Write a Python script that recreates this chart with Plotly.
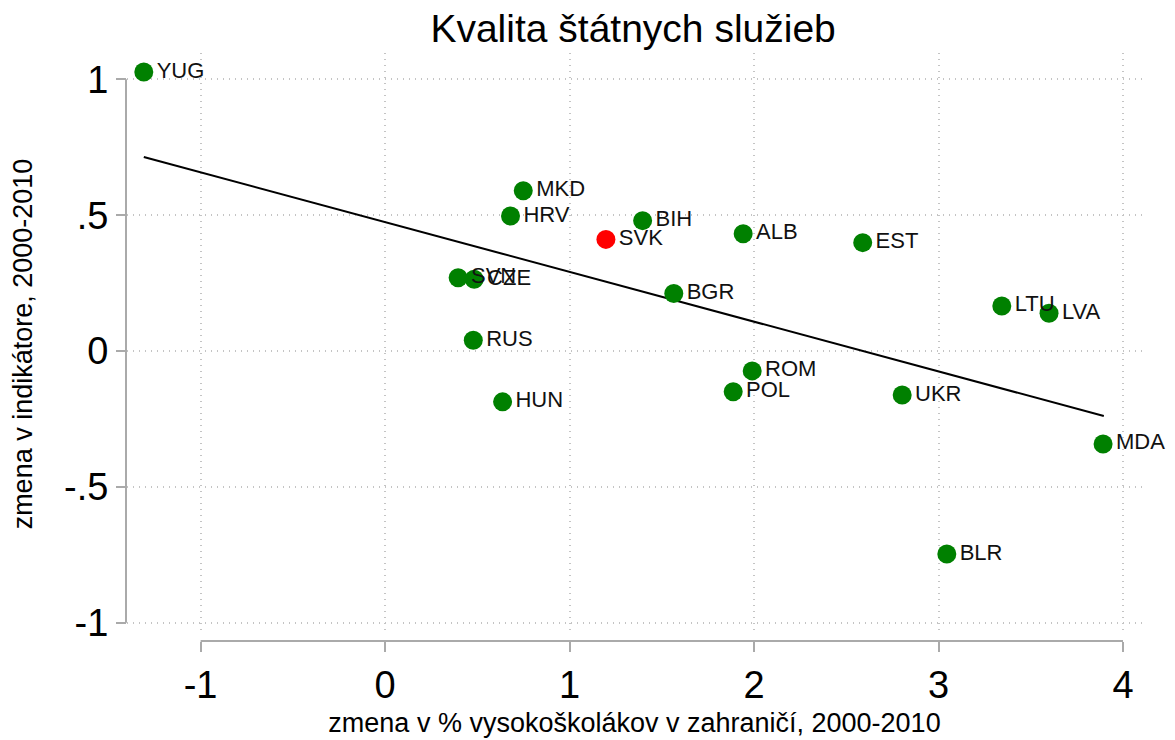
import plotly.graph_objects as go

countries = ["YUG", "MKD", "HRV", "BIH", "SVK", "ALB", "EST", "SVN", "CZE", "BGR",
             "LTU", "LVA", "RUS", "ROM", "POL", "UKR", "HUN", "MDA", "BLR"]
x_vals = [-1.308, 0.749, 0.680, 1.396, 1.197, 1.941, 2.589, 0.396, 0.483, 1.565,
          3.343, 3.599, 0.478, 1.990, 1.887, 2.803, 0.637, 3.892, 3.045]
y_vals = [1.027, 0.590, 0.497, 0.480, 0.411, 0.432, 0.399, 0.270, 0.264, 0.212,
          0.166, 0.139, 0.040, -0.073, -0.150, -0.162, -0.187, -0.342, -0.747]
fit_x = [-1.308, 3.896]
fit_y = [0.714, -0.239]
x_ticks = [-1, 0, 1, 2, 3, 4]
x_tick_labels = ["-1", "0", "1", "2", "3", "4"]
y_ticks = [-1, -0.5, 0, 0.5, 1]
y_tick_labels = ["-1", "-.5", "0", ".5", "1"]
highlight = "SVK"

FONT = "Liberation Sans, Arial, sans-serif"
colors = ["#ff0000" if c == highlight else "#008000" for c in countries]

fig = go.Figure()
fig.add_trace(go.Scatter(
    x=fit_x, y=fit_y, mode="lines",
    line=dict(color="black", width=2), hoverinfo="skip", showlegend=False,
    xaxis="x", yaxis="y"))
fig.add_trace(go.Scatter(
    x=x_vals, y=y_vals, mode="markers+text", text=countries,
    textposition="middle right",
    textfont=dict(family=FONT, size=22, color="#111111"),
    marker=dict(color=colors, size=19, line=dict(width=0)),
    cliponaxis=False, showlegend=False, xaxis="x", yaxis="y"))

# geometry (figure pixels; page body adds an 8px offset)
L, R, T, B = 107, 41, 45, 97
W = 1175 - L - R
H = 740 - T - B
xdom0 = (119 - L) / W
ydom0 = (643 - 627) / H
xline_pos = (643 - 633) / H
yline_pos = (118 - L) / W

xr = [-1.399, 4.103]
yr = [-1.045, 1.097]

grid = dict(showgrid=True, gridcolor="#c4c4c4", griddash="1px,5px", gridwidth=1.5,
            zeroline=False, showline=False)

fig.update_layout(
    width=1175, height=740,
    margin=dict(l=L, r=R, t=T, b=B, autoexpand=False),
    paper_bgcolor="white", plot_bgcolor="white",
    font=dict(family=FONT, color="black"),
    title=dict(text="Kvalita štátnych služieb", x=0.532, xanchor="center",
               y=0.972, yanchor="middle",
               font=dict(family=FONT, size=39, color="black")),
    xaxis=dict(domain=[xdom0, 1], range=xr, tickvals=x_ticks, showticklabels=False,
               ticks="", **grid),
    yaxis=dict(domain=[ydom0, 1], range=yr, tickvals=y_ticks, showticklabels=False,
               ticks="", **grid),
    xaxis2=dict(overlaying="x", matches="x", anchor="free", position=xline_pos,
                range=xr, tickvals=x_ticks, ticktext=x_tick_labels,
                ticks="outside", ticklen=10, tickwidth=2, tickcolor="#aaaaaa",
                showgrid=False, zeroline=False, showline=False,
                tickfont=dict(family=FONT, size=38, color="black"),
                title=dict(text="zmena v % vysokoškolákov v zahraničí, 2000-2010",
                           font=dict(family=FONT, size=27, color="black"),
                           standoff=8)),
    yaxis2=dict(overlaying="y", matches="y", anchor="free", position=yline_pos,
                range=yr, tickvals=y_ticks, ticktext=y_tick_labels,
                ticks="outside", ticklen=10, tickwidth=2, tickcolor="#aaaaaa",
                showgrid=False, zeroline=False, showline=False,
                tickfont=dict(family=FONT, size=38, color="black"),
                title=dict(text="zmena v indikátore, 2000-2010",
                           font=dict(family=FONT, size=27, color="black"),
                           standoff=34)),
)

# invisible trace to activate the secondary axes
fig.add_trace(go.Scatter(x=[x_ticks[0]], y=[y_ticks[0]], xaxis="x2", yaxis="y2",
                         mode="markers", marker=dict(opacity=0), hoverinfo="skip",
                         showlegend=False))

# axis lines spanning the tick range only (Stata style)
fig.add_shape(type="line", xref="x", yref="paper", x0=x_ticks[0], x1=x_ticks[-1],
              y0=xline_pos, y1=xline_pos, line=dict(color="#aaaaaa", width=2))
fig.add_shape(type="line", xref="paper", yref="y", x0=yline_pos, x1=yline_pos,
              y0=y_ticks[0], y1=y_ticks[-1], line=dict(color="#aaaaaa", width=2))

fig.write_html("out.html")
